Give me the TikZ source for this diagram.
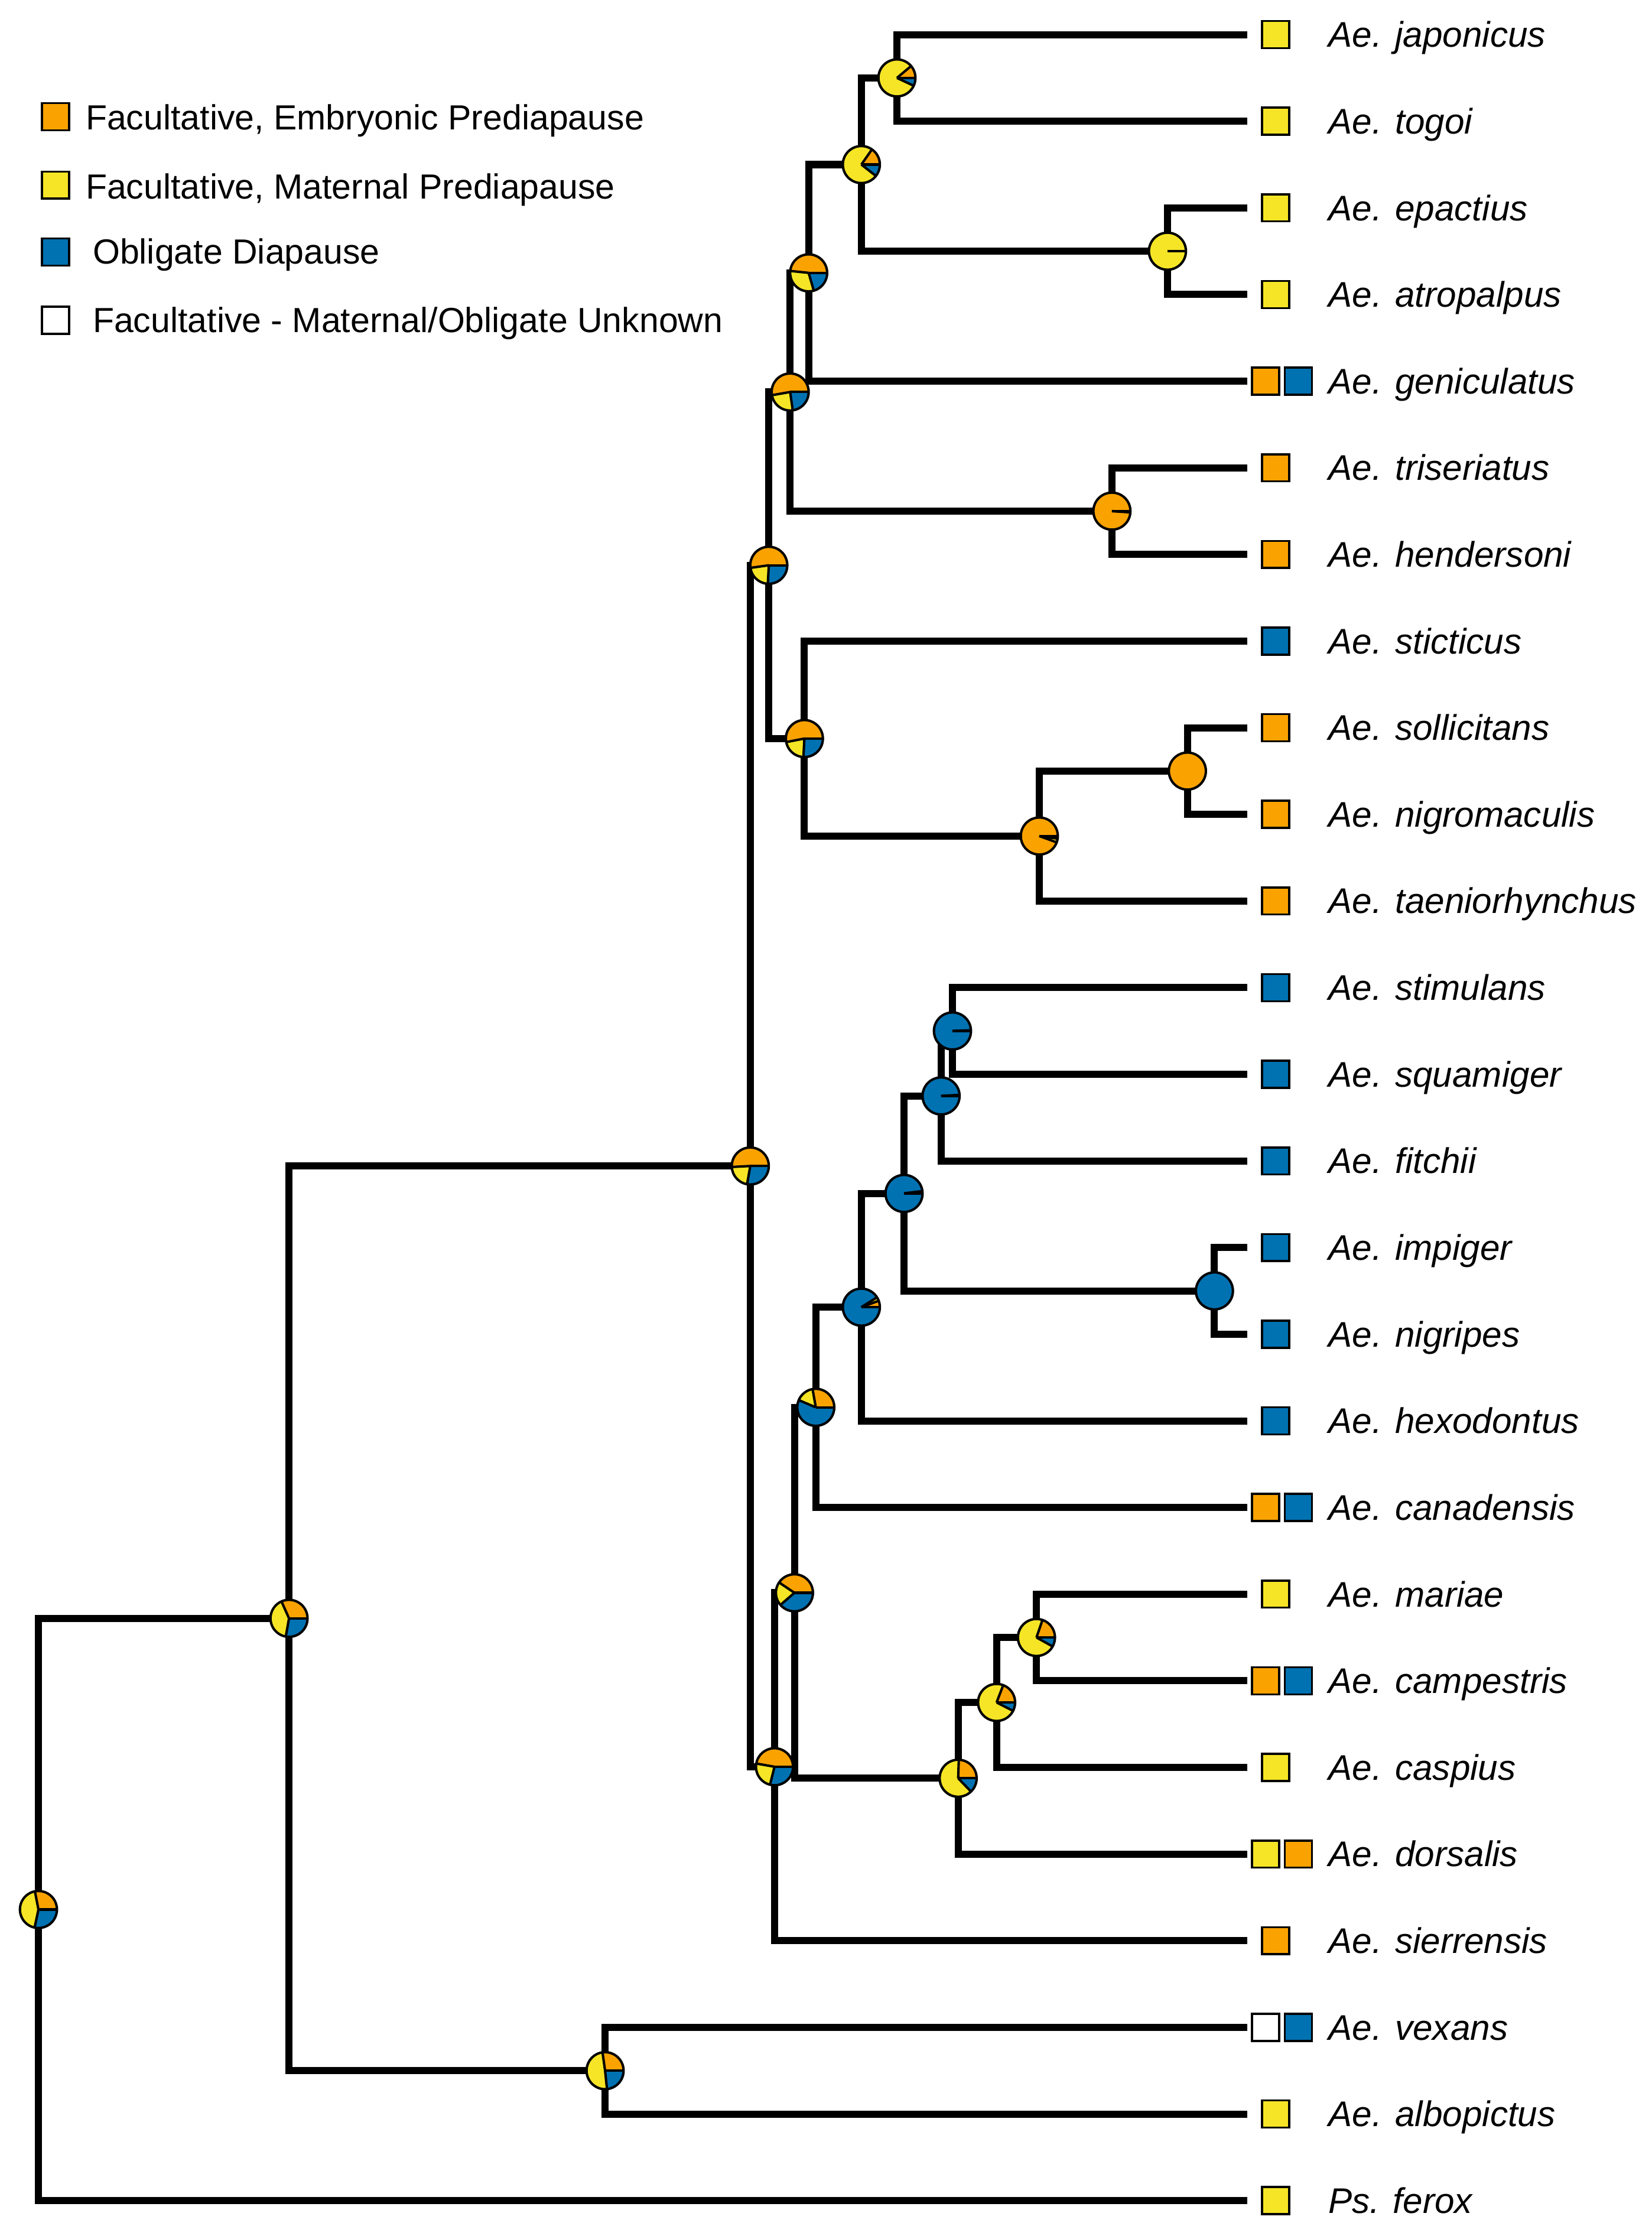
\documentclass[tikz,border=0pt]{standalone}
\usepackage{fontspec}
\setmainfont{Liberation Sans}
\definecolor{cO}{RGB}{250,163,0}
\definecolor{cY}{RGB}{245,229,38}
\definecolor{cB}{RGB}{0,114,178}
\newcommand\pr{13pt}
% pie: #1 coordinate, #2 end of orange, #3 end of yellow (degrees ccw from east)
\newcommand\mypie[3]{%
  \fill[cO] (#1) -- ++(0:\pr) arc[start angle=0,end angle=#2,radius=\pr] -- cycle;
  \fill[cY] (#1) -- ++(#2:\pr) arc[start angle=#2,end angle=#3,radius=\pr] -- cycle;
  \fill[cB] (#1) -- ++(#3:\pr) arc[start angle=#3,end angle=360,radius=\pr] -- cycle;
  \draw[pieline] (#1) -- ++(0:\pr);
  \draw[pieline] (#1) -- ++(#2:\pr);
  \draw[pieline] (#1) -- ++(#3:\pr);
  \draw[pieline] (#1) circle[radius=\pr];
}
\newcommand\plainpie[2]{%
  \fill[#2] (#1) circle[radius=\pr];
  \draw[pieline] (#1) circle[radius=\pr];
}
\tikzset{
  branch/.style={line width=5pt, line join=miter},
  pieline/.style={line width=1.7pt, black, line join=round},
  sq/.style={draw=black, line width=1.5pt, minimum size=19pt, inner sep=0pt},
  lab/.style={anchor=base west, inner sep=0pt, font=\fontsize{25}{30}\selectfont\itshape},
  leg/.style={anchor=base west, inner sep=0pt, font=\fontsize{24.5}{30}\selectfont},
}
\begin{document}
\begin{tikzpicture}[x=1pt,y=1pt]
\useasboundingbox (0,0) rectangle (1160,-1570.4);
% tips
\foreach \i in {0,...,25}{
  \coordinate (t\i) at (876,{-(24.3+60.85*\i)});
}
% internal nodes
\coordinate (n1) at (630,-54.725);
\coordinate (n3) at (820,-176.425);
\coordinate (n2) at (605,-115.575);
\coordinate (n4) at (568,-191.64);
\coordinate (n6) at (781,-358.975);
\coordinate (n5) at (555,-275.31);
\coordinate (n9) at (834,-541.525);
\coordinate (n10) at (730,-587.16);
\coordinate (n8) at (565,-518.71);
\coordinate (n7) at (540,-397.01);
\coordinate (n11) at (669,-724.075);
\coordinate (n12) at (661,-769.71);
\coordinate (n14) at (853,-906.625);
\coordinate (n13) at (635,-838.17);
\coordinate (n15) at (605,-918.03);
\coordinate (n16) at (573,-988.39);
\coordinate (n18) at (728,-1150.025);
\coordinate (n19) at (700,-1195.66);
\coordinate (n20) at (673,-1248.9);
\coordinate (n17) at (558,-1118.65);
\coordinate (n21) at (544,-1240.82);
\coordinate (n22) at (527,-818.91);
\coordinate (n24) at (425,-1454.275);
\coordinate (n23) at (203,-1136.59);
\coordinate (r) at (27,-1341.07);
% branches
\foreach \p/\c in {r/n23, r/t25, n23/n22, n23/n24, n24/t23, n24/t24,
  n22/n7, n22/n21, n7/n5, n7/n8, n5/n4, n5/n6, n4/n2, n4/t4, n2/n1, n2/n3,
  n1/t0, n1/t1, n3/t2, n3/t3, n6/t5, n6/t6, n8/t7, n8/n10, n10/n9, n10/t10,
  n9/t8, n9/t9, n21/n17, n21/t22, n17/n16, n17/n20, n16/n15, n16/t17,
  n15/n13, n15/t16, n13/n12, n13/n14, n12/n11, n12/t13, n11/t11, n11/t12,
  n14/t14, n14/t15, n20/n19, n20/t21, n19/n18, n19/t20, n18/t18, n18/t19}{
  \draw[branch] (\p) |- (\c);
}
% pies
\mypie{n1}{40}{335}
\mypie{n2}{55}{322}
\mypie{n3}{0}{360}
\mypie{n4}{174}{286}
\mypie{n5}{190}{278}
\mypie{n6}{356}{358}
\mypie{n7}{188}{267}
\mypie{n8}{191}{267}
\plainpie{n9}{cO}
\mypie{n10}{340}{352}
\mypie{n11}{2}{2}
\mypie{n12}{3}{3}
\mypie{n13}{7}{7}
\plainpie{n14}{cB}
\mypie{n15}{20}{32}
\mypie{n16}{100}{157}
\mypie{n17}{146}{221}
\mypie{n18}{71}{331}
\mypie{n19}{69}{333}
\mypie{n20}{88}{314}
\mypie{n21}{170}{256}
\mypie{n22}{183}{260}
\mypie{n23}{114}{260}
\mypie{n24}{98}{276}
\mypie{r}{101}{258}
% tip squares
\node[sq,fill=cY] (s0) at (896,-24.3) {};
\node[sq,fill=cY] (s1) at (896,-85.15) {};
\node[sq,fill=cY] (s2) at (896,-146.0) {};
\node[sq,fill=cY] (s3) at (896,-206.85) {};
\node[sq,fill=cO] (s4a) at (889,-267.7) {};
\node[sq,fill=cB] (s4b) at (912,-267.7) {};
\node[sq,fill=cO] (s5) at (896,-328.55) {};
\node[sq,fill=cO] (s6) at (896,-389.4) {};
\node[sq,fill=cB] (s7) at (896,-450.25) {};
\node[sq,fill=cO] (s8) at (896,-511.1) {};
\node[sq,fill=cO] (s9) at (896,-571.95) {};
\node[sq,fill=cO] (s10) at (896,-632.8) {};
\node[sq,fill=cB] (s11) at (896,-693.65) {};
\node[sq,fill=cB] (s12) at (896,-754.5) {};
\node[sq,fill=cB] (s13) at (896,-815.35) {};
\node[sq,fill=cB] (s14) at (896,-876.2) {};
\node[sq,fill=cB] (s15) at (896,-937.05) {};
\node[sq,fill=cB] (s16) at (896,-997.9) {};
\node[sq,fill=cO] (s17a) at (889,-1058.75) {};
\node[sq,fill=cB] (s17b) at (912,-1058.75) {};
\node[sq,fill=cY] (s18) at (896,-1119.6) {};
\node[sq,fill=cO] (s19a) at (889,-1180.45) {};
\node[sq,fill=cB] (s19b) at (912,-1180.45) {};
\node[sq,fill=cY] (s20) at (896,-1241.3) {};
\node[sq,fill=cY] (s21a) at (889,-1302.15) {};
\node[sq,fill=cO] (s21b) at (912,-1302.15) {};
\node[sq,fill=cO] (s22) at (896,-1363.0) {};
\node[sq,fill=white] (s23a) at (889,-1423.85) {};
\node[sq,fill=cB] (s23b) at (912,-1423.85) {};
\node[sq,fill=cY] (s24) at (896,-1484.7) {};
\node[sq,fill=cY] (s25) at (896,-1545.55) {};
% labels
\foreach \i/\name in {0/Ae. japonicus, 1/Ae. togoi, 2/Ae. epactius, 3/Ae. atropalpus,
  4/Ae. geniculatus, 5/Ae. triseriatus, 6/Ae. hendersoni, 7/Ae. sticticus,
  8/Ae. sollicitans, 9/Ae. nigromaculis, 10/Ae. taeniorhynchus, 11/Ae. stimulans,
  12/Ae. squamiger, 13/Ae. fitchii, 14/Ae. impiger, 15/Ae. nigripes,
  16/Ae. hexodontus, 17/Ae. canadensis, 18/Ae. mariae, 19/Ae. campestris,
  20/Ae. caspius, 21/Ae. dorsalis, 22/Ae. sierrensis, 23/Ae. vexans,
  24/Ae. albopictus, 25/Ps. ferox}{
  \node[lab] (l\i) at (933,{-(24.3+60.85*\i+8.8)}) {\name};
}
% legend
\node[sq,fill=cO] (k1) at (39,-82) {};
\node[sq,fill=cY] (k2) at (39,-130) {};
\node[sq,fill=cB] (k3) at (39,-177) {};
\node[sq,fill=white] (k4) at (39,-225) {};
\node[leg] (kl1) at (60,-91) {Facultative, Embryonic Prediapause};
\node[leg] (kl2) at (60,-139.5) {Facultative, Maternal Prediapause};
\node[leg] (kl3) at (65,-185.5) {Obligate Diapause};
\node[leg] (kl4) at (65,-233.5) {Facultative - Maternal/Obligate Unknown};
\end{tikzpicture}
\end{document}
